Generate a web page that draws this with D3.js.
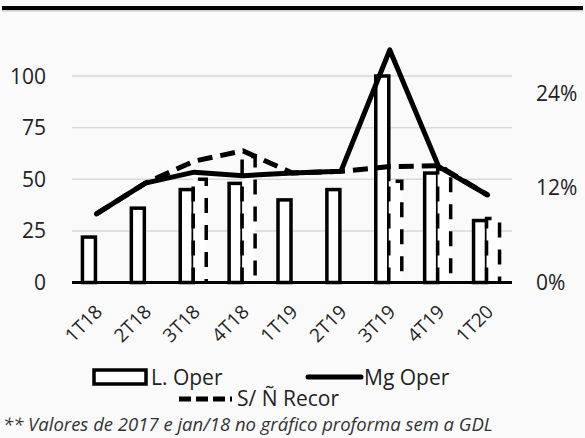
<!DOCTYPE html>
<meta charset="utf-8">
<head>
  <title>L. Oper / Mg Oper</title>
</head>

<style>
body {
  margin: 0;
  background: #fafafa;
}
svg {
  display: block;
  font-family: "Open Sans", "Noto Sans", sans-serif;
}
</style>

<body>
  <div id="content"></div>

  <script src="https://cdnjs.cloudflare.com/ajax/libs/d3/7.8.5/d3.min.js"></script>

  <script>
// DATA
var categories = ['1T18', '2T18', '3T18', '4T18', '1T19', '2T19', '3T19', '4T19', '1T20'];
var lOper = [22, 36, 45, 48, 40, 45, 100, 53, 30];
var lOperSNR = [null, null, 50, 61, null, null, 49, 55, 31];
var mgOper = [8.7, 12.6, 14.0, 13.55, 13.9, 14.1, 29.5, 14.7, 11.1];
var mgOperSNR = [8.7, 12.6, 15.4, 16.7, 13.9, 14.1, 14.7, 14.8, 11.1];
var leftTicks = [0, 25, 50, 75, 100];
var rightTicks = [0, 0.12, 0.24];
var footnote = '** Valores de 2017 e jan/18 no gráfico proforma sem a GDL';

var width = 585, height = 438;

var svg = d3.select('#content').append('svg')
  .attr('width', width)
  .attr('height', height);

svg.append('rect')
  .attr('width', width).attr('height', height)
  .attr('fill', '#fafafa');

// top border of the (cut) title
svg.append('rect')
  .attr('x', 2).attr('y', 6).attr('width', 581).attr('height', 4)
  .attr('fill', '#000');
svg.append('rect')
  .attr('x', 2).attr('y', 10).attr('width', 581).attr('height', 1.5)
  .attr('fill', '#ccc');

var x = d3.scalePoint()
  .domain(categories)
  .range([72, 512])
  .padding(0.5);

var xSub = d3.scaleBand()
  .domain(['a', 'b'])
  .range([-14, 12]);

var yL = d3.scaleLinear().domain([0, 100]).range([282.5, 76]);
var yR = d3.scaleLinear().domain([0, 0.24]).range([282.5, 93.3]);

// Gridlines
svg.append('g')
  .selectAll('line')
  .data(leftTicks.slice(1))
  .join('line')
  .attr('x1', 72).attr('x2', 512)
  .attr('y1', d => yL(d)).attr('y2', d => yL(d))
  .attr('stroke', '#d9d9d9')
  .attr('stroke-width', 1.5);

// Left axis labels
svg.append('g')
  .selectAll('text')
  .data(leftTicks)
  .join('text')
  .attr('x', 46)
  .attr('y', d => yL(d) + 7.5)
  .attr('text-anchor', 'end')
  .attr('font-size', 21)
  .attr('fill', '#222')
  .text(d => d);

// Right axis labels
svg.append('g')
  .selectAll('text')
  .data(rightTicks)
  .join('text')
  .attr('x', 536)
  .attr('y', d => yR(d) + 7.5)
  .attr('font-size', 21)
  .attr('fill', '#222')
  .text(d3.format('.0%'));

// Bars: L. Oper
svg.append('g')
  .selectAll('rect')
  .data(lOper)
  .join('rect')
  .attr('x', (d, i) => x(categories[i]) + xSub('a'))
  .attr('y', d => yL(d))
  .attr('width', xSub.bandwidth())
  .attr('height', d => yL(0) - yL(d))
  .attr('fill', '#fff')
  .attr('stroke', '#000')
  .attr('stroke-width', 3.5);

// Bars: S/ Ñ Recor (dashed)
svg.append('g')
  .selectAll('path')
  .data(lOperSNR.map((d, i) => ({v: d, c: categories[i]})).filter(d => d.v != null))
  .join('path')
  .attr('d', function(d) {
    var x0 = x(d.c) + xSub('b'), x1 = x0 + xSub.bandwidth();
    return 'M' + x0 + ',' + yL(0) + 'V' + yL(d.v) + 'H' + x1 + 'V' + yL(0);
  })
  .attr('fill', '#fff')
  .attr('stroke', '#000')
  .attr('stroke-width', 3.5)
  .attr('stroke-dasharray', '15,12');

// Axis baseline
svg.append('line')
  .attr('x1', 72).attr('x2', 512)
  .attr('y1', yL(0)).attr('y2', yL(0))
  .attr('stroke', '#000')
  .attr('stroke-width', 3);

// Lines
var line = d3.line()
  .x((d, i) => x(categories[i]))
  .y(d => yR(d / 100));

svg.append('path')
  .datum(mgOperSNR)
  .attr('d', line)
  .attr('fill', 'none')
  .attr('stroke', '#000')
  .attr('stroke-width', 5)
  .attr('stroke-dasharray', '15,8');

svg.append('path')
  .datum(mgOper)
  .attr('d', line)
  .attr('fill', 'none')
  .attr('stroke', '#000')
  .attr('stroke-width', 5)
  .attr('stroke-linejoin', 'round')
  .attr('stroke-linecap', 'round');

// X labels
svg.append('g')
  .selectAll('text')
  .data(categories)
  .join('text')
  .attr('transform', d => 'translate(' + (x(d) + 7) + ',313) rotate(-45)')
  .attr('text-anchor', 'end')
  .attr('font-size', 19)
  .attr('fill', '#222')
  .text(d => d);

// Legend
var legend = svg.append('g').attr('font-size', 21).attr('fill', '#222');

legend.append('rect')
  .attr('x', 94).attr('y', 370).attr('width', 52).attr('height', 14)
  .attr('fill', '#fff').attr('stroke', '#000').attr('stroke-width', 3.5);
legend.append('text').attr('x', 151).attr('y', 385).text('L. Oper');

legend.append('line')
  .attr('x1', 308).attr('x2', 361).attr('y1', 377).attr('y2', 377)
  .attr('stroke', '#000').attr('stroke-width', 5).attr('stroke-linecap', 'round');
legend.append('text').attr('x', 364).attr('y', 385).text('Mg Oper');

legend.append('line')
  .attr('x1', 179).attr('x2', 232).attr('y1', 399).attr('y2', 399)
  .attr('stroke', '#000').attr('stroke-width', 5).attr('stroke-dasharray', '12,5');
legend.append('text').attr('x', 237).attr('y', 406).text('S/ Ñ Recor');

// Footnote
svg.append('text')
  .attr('x', 3).attr('y', 431)
  .attr('font-size', 18.5)
  .attr('font-style', 'italic')
  .attr('fill', '#333')
  .text(footnote);
  </script>
</body>
</html>
